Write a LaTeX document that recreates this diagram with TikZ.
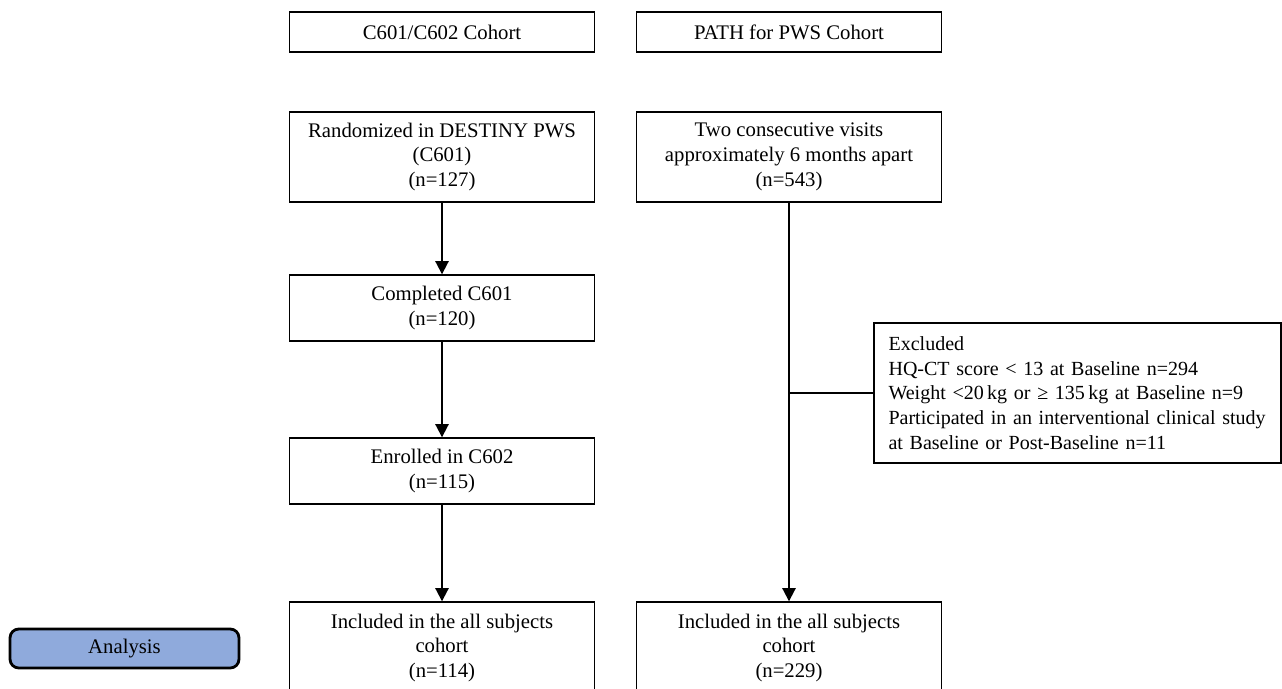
\documentclass[tikz,border=0pt]{standalone}
\usepackage{fontspec}
\setmainfont{Liberation Serif}
\usetikzlibrary{arrows.meta}
\definecolor{steel}{HTML}{8FAADC}

\begin{document}
\begin{tikzpicture}[x=0.02cm,y=-0.02cm,>={Triangle[length=7.5pt,width=7.5pt]},
  font=\fontsize{11.8}{14.2}\selectfont,
  box/.style={draw,line width=0.8pt,minimum width=6.1cm,align=center,inner sep=2pt},
  notebox/.style={draw,line width=0.8pt,minimum height=2.8cm,align=left,text width=7.56cm,inner xsep=0.29cm,
    font=\fontsize{11.4}{14}\selectfont},
  phase/.style={draw,line width=1.6pt,rounded corners=5pt,fill=steel,minimum width=4.58cm,minimum height=0.78cm},
  flow/.style={->,line width=1.1pt}]
  \useasboundingbox (0,0) rectangle (1282,689);
  \clip (0,0) rectangle (1282,689);
  % column headers
  \node[box, minimum height=0.8cm] (headL) at (442,32) {C601/C602 Cohort};
  \node[box, minimum height=0.8cm] (headR) at (789,32) {PATH for PWS Cohort};
  % C601/C602 column
  \node[box, minimum height=1.8cm] (rand) at (442,157) {Randomized in DESTINY PWS\\(C601)\\(n=127)};
  \node[box, minimum height=1.32cm] (compl) at (442,308) {Completed C601\\(n=120)};
  \node[box, minimum height=1.32cm] (enrol) at (442,471) {Enrolled in C602\\(n=115)};
  \node[box, minimum height=1.84cm] (inclL) at (442,648) {Included in the all subjects\\cohort\\(n=114)};
  % PATH column
  \node[box, minimum height=1.8cm] (visits) at (789,157) {Two consecutive visits\\approximately 6 months apart\\(n=543)};
  \node[box, minimum height=1.84cm] (inclR) at (789,648) {Included in the all subjects\\cohort\\(n=229)};
  \node[notebox] (excl) at (1077.5,393) {Excluded\\
    HQ-CT score < 13 at Baseline n=294\\
    Weight <20\,kg or ≥ 135\,kg at Baseline n=9\\
    Participated in an interventional clinical study\\
    at Baseline or Post-Baseline n=11};
  \node[phase] (analysis) at (124.5,648.5) {Analysis};
  % connectors
  \draw[flow] (rand)--(compl);
  \draw[flow] (compl)--(enrol);
  \draw[flow] (enrol)--(inclL);
  \draw[flow] (visits)--(inclR);
  \draw[line width=1.1pt] (excl.west)--(excl.west -| visits.south);
\end{tikzpicture}
\end{document}
